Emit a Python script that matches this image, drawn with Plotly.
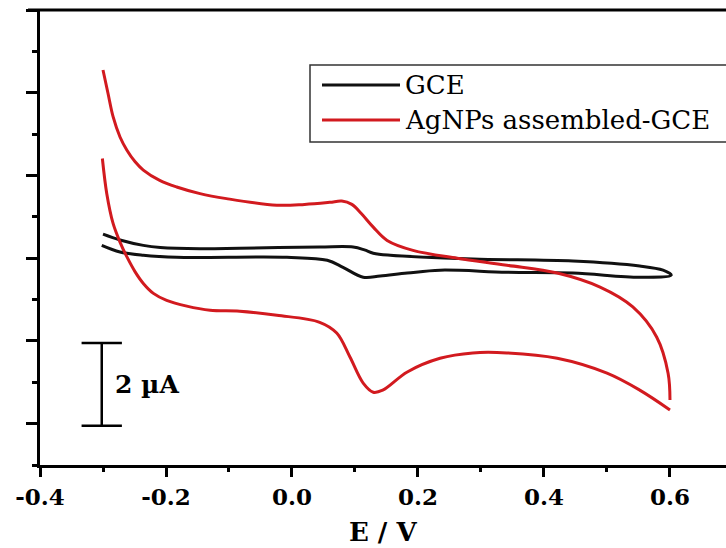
import plotly.graph_objects as go

# Cyclic voltammograms (potential in V, current in µA)
# Bare glassy carbon electrode: forward (anodic) and reverse (cathodic) scans
e_gce_fwd = [-0.300, -0.273, -0.236, -0.209, -0.146, -0.083, 0.044, 0.097, 0.115,
             0.129, 0.156, 0.287, 0.446, 0.552, 0.589, 0.602]
i_gce_fwd = [0.58, 0.44, 0.31, 0.26, 0.23, 0.24, 0.27, 0.27, 0.20,
             0.12, 0.07, -0.02, -0.07, -0.19, -0.29, -0.41]
e_gce_rev = [0.600, 0.552, 0.446, 0.341, 0.235, 0.183, 0.140, 0.113, 0.081,
             0.056, -0.008, -0.183, -0.236, -0.273, -0.302]
i_gce_rev = [-0.48, -0.46, -0.36, -0.34, -0.29, -0.36, -0.43, -0.46, -0.22,
             -0.05, 0.02, 0.02, 0.07, 0.15, 0.31]

# Silver-nanoparticle modified electrode
e_ag_fwd = [-0.300, -0.292, -0.284, -0.273, -0.262, -0.249, -0.236, -0.210, -0.183,
            -0.146, -0.104, -0.024, 0.020, 0.060, 0.079, 0.095, 0.110, 0.129, 0.151,
            0.192, 0.262, 0.341, 0.421, 0.489, 0.541, 0.579, 0.597, 0.600]
i_ag_fwd = [4.55, 3.98, 3.42, 2.93, 2.61, 2.33, 2.13, 1.88, 1.72,
            1.56, 1.44, 1.28, 1.30, 1.35, 1.38, 1.30, 1.08, 0.75, 0.43,
            0.19, 0.00, -0.17, -0.36, -0.70, -1.18, -1.91, -2.78, -3.43]
e_ag_rev = [0.600, 0.552, 0.500, 0.421, 0.341, 0.287, 0.235, 0.183, 0.144, 0.129,
            0.113, 0.092, 0.071, 0.044, -0.024, -0.083, -0.130, -0.167, -0.199,
            -0.220, -0.236, -0.249, -0.262, -0.273, -0.284, -0.294, -0.301]
i_ag_rev = [-3.67, -3.19, -2.78, -2.42, -2.29, -2.29, -2.42, -2.75, -3.19, -3.24,
            -3.02, -2.39, -1.81, -1.55, -1.38, -1.28, -1.26, -1.16, -1.02,
            -0.85, -0.61, -0.33, 0.03, 0.39, 0.84, 1.56, 2.41]

series_names = ["GCE", "AgNPs assembled-GCE"]
series_colors = ["#111111", "#d21a1f"]

# axis ticks
x_major = [-0.4, -0.2, 0.0, 0.2, 0.4, 0.6]
x_labels = ["-0.4", "-0.2", "0.0", "0.2", "0.4", "0.6"]
x_minor = [-0.3, -0.1, 0.1, 0.3, 0.5]
y_major = [-4, -2, 0, 2, 4, 6]
y_minor = [-5, -3, -1, 1, 3, 5]
x_range = [-0.4, 0.6794]
y_range = [-5, 6]

# current scale bar
scale_uA = 2
scale_top = -2.05
scale_x = -0.302
scale_cap = 0.032

SERIF = "DejaVu Serif"
LINE = dict(width=3, shape="spline", smoothing=1.0)

fig = go.Figure()

fig.add_trace(go.Scatter(
    x=e_gce_fwd + e_gce_rev[1:], y=i_gce_fwd + i_gce_rev[1:],
    mode="lines", line=dict(color=series_colors[0], **LINE),
    name=series_names[0], showlegend=False))
fig.add_trace(go.Scatter(
    x=e_ag_fwd, y=i_ag_fwd,
    mode="lines", line=dict(color=series_colors[1], **LINE),
    name=series_names[1], showlegend=False))
fig.add_trace(go.Scatter(
    x=e_ag_rev, y=i_ag_rev,
    mode="lines", line=dict(color=series_colors[1], **LINE),
    name=series_names[1], showlegend=False))

# scale bar
sb_bot = scale_top - scale_uA
fig.add_trace(go.Scatter(
    x=[scale_x - scale_cap, scale_x + scale_cap, None, scale_x, scale_x, None,
       scale_x - scale_cap, scale_x + scale_cap],
    y=[scale_top, scale_top, None, scale_top, sb_bot, None, sb_bot, sb_bot],
    mode="lines", line=dict(color="black", width=2.5), showlegend=False,
    hoverinfo="skip"))
fig.add_annotation(x=-0.284, y=(scale_top + sb_bot) / 2, xref="x", yref="y",
                   text=f"{scale_uA} µA", showarrow=False, xanchor="left", yanchor="middle",
                   font=dict(family=SERIF, size=25, color="black", weight="bold"))

# figure geometry in pixels, used to place the hand-drawn legend and title
L, T, B, R, H, W = 40, 10, 83, 6, 548, 726
pw, ph = W - L - R, H - T - B
def px(xp):
    return (xp - L) / pw
def py(yp):
    return (H - B - yp) / ph

# top frame line, and the bottom axis line carried on to the right edge
fig.add_shape(type="line", xref="paper", yref="paper", x0=px(28), x1=px(730), y0=1.0, y1=1.0,
              line=dict(color="black", width=3))
fig.add_shape(type="line", xref="paper", yref="paper", x0=px(700), x1=px(730),
              y0=py(466.5), y1=py(466.5), line=dict(color="black", width=3))

# legend box with long sample lines
fig.add_shape(type="rect", xref="paper", yref="paper",
              x0=px(310), x1=px(760), y0=py(142), y1=py(65),
              line=dict(color="#333333", width=1.5), fillcolor="rgba(0,0,0,0)")
for k, (name, col) in enumerate(zip(series_names, series_colors)):
    yy = py(85 + 35 * k)
    fig.add_shape(type="line", xref="paper", yref="paper",
                  x0=px(322), x1=px(400), y0=yy, y1=yy,
                  line=dict(color=col, width=3))
    fig.add_annotation(x=px(403), y=yy, xref="paper", yref="paper", text=name,
                       showarrow=False, xanchor="left", yanchor="middle",
                       font=dict(family=SERIF, size=26, color="black"))

# x-axis title near the bottom edge
fig.add_annotation(x=px(383), y=py(515), xref="paper", yref="paper", text="E / V",
                   showarrow=False, xanchor="center", yanchor="top",
                   font=dict(family=SERIF, size=26, color="black", weight="bold"))

fig.update_layout(
    width=W, height=H,
    margin=dict(l=L, r=R, t=T, b=B, autoexpand=False),
    plot_bgcolor="white", paper_bgcolor="white",
    xaxis=dict(
        range=x_range, tickmode="array", tickvals=x_major, ticktext=x_labels,
        ticks="outside", ticklen=9, tickwidth=3, tickcolor="black",
        showline=True, linewidth=3, linecolor="black", mirror=False,
        showgrid=False, zeroline=False, automargin=False,
        tickfont=dict(family=SERIF, size=23, color="black", weight="bold"),
    ),
    # second x axis carrying only the short minor ticks
    xaxis2=dict(
        range=x_range, overlaying="x", side="bottom", anchor="y",
        tickmode="array", tickvals=x_minor, showticklabels=False,
        ticks="outside", ticklen=6, tickwidth=3, tickcolor="black",
        showline=False, showgrid=False, zeroline=False, automargin=False,
    ),
    yaxis=dict(
        range=y_range, tickmode="array", tickvals=y_major, showticklabels=False,
        ticks="outside", ticklen=11, tickwidth=3, tickcolor="black",
        showline=True, linewidth=3, linecolor="black", mirror=False,
        showgrid=False, zeroline=False, automargin=False,
        minor=dict(tickmode="array", tickvals=y_minor, ticks="outside", ticklen=5,
                   tickwidth=3, tickcolor="black"),
    ),
)
# an invisible trace so the minor-tick axis is drawn
fig.add_trace(go.Scatter(x=[x_range[0]], y=[y_range[0]], xaxis="x2", mode="markers",
                         marker=dict(opacity=0), showlegend=False, hoverinfo="skip"))

fig.write_html("out.html", config={"displayModeBar": False})
